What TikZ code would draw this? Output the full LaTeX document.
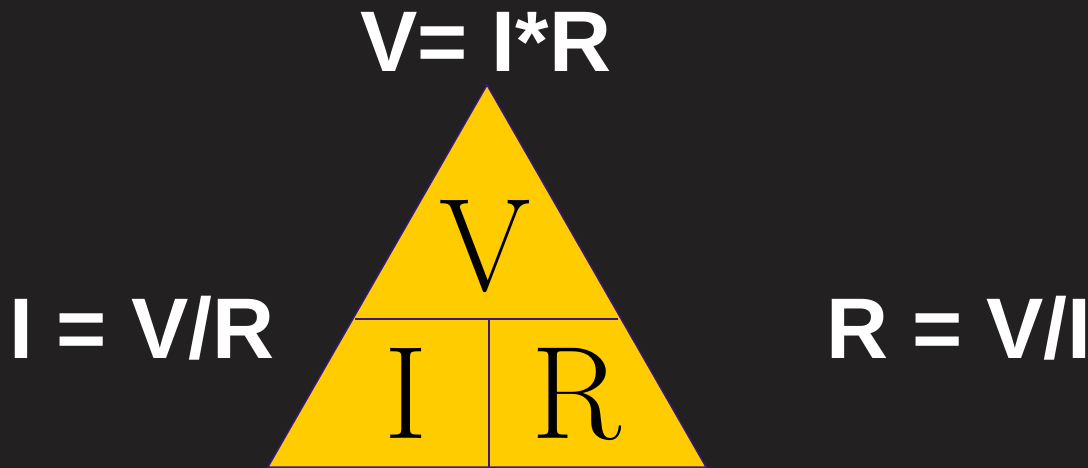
\documentclass[tikz,border=0pt]{standalone}
\usepackage{fontspec}
\usepackage{tikz}
\usetikzlibrary{positioning}
\usepackage{xcolor}

\newfontfamily\eqfont{Liberation Sans}
\definecolor{bgdark}{RGB}{34,32,33}
\definecolor{triyellow}{RGB}{255,204,0}
\definecolor{lineviolet}{RGB}{58,24,140}

\begin{document}
\begin{tikzpicture}[x=1pt, y=-1pt,
    formula/.style={text=white, inner sep=0pt, font=\eqfont\bfseries\fontsize{86}{100}\selectfont},
    letter/.style={text=black, inner sep=0pt, anchor=base, font=\fontsize{132}{150}\selectfont},
    edge/.style={draw=lineviolet, line width=1.4pt}]

        % Background and page size
        \fill[bgdark] (0,0) rectangle (1088,468);
        \useasboundingbox (0,0) rectangle (1088,468);

        % Corners of the triangle
        \coordinate (top) at (487,85);
        \coordinate (bl) at (268,467);
        \coordinate (br) at (706,467);
        \coordinate (ml) at (355,319);
        \coordinate (mr) at (618,319);
        \coordinate (mm) at (489,319);
        \coordinate (mb) at (489,467);

        % Triangle body
        \fill[triyellow] (top) -- (br) -- (bl) -- cycle;
        \draw[edge, line join=miter] (top) -- (br) -- (bl) -- cycle;
        \draw[edge] (ml) -- (mr);
        \draw[edge] (mm) -- (mb);

        % Letters inside
        \node[letter] (v) at (485,290) {V};
        \node[letter] (i) at (406,438) {I};
        \node[letter] (r) at (576,438) {R};

        % Formulas around it
        \node[formula, anchor=base] (vir) at (486,72) {V= I*R};
        \node[formula, anchor=base west] (ivr) at (9,358) {I = V/R};
        \node[formula, anchor=base west] (rvi) at (826,358) {R = V/I};
    \end{tikzpicture}
\end{document}
